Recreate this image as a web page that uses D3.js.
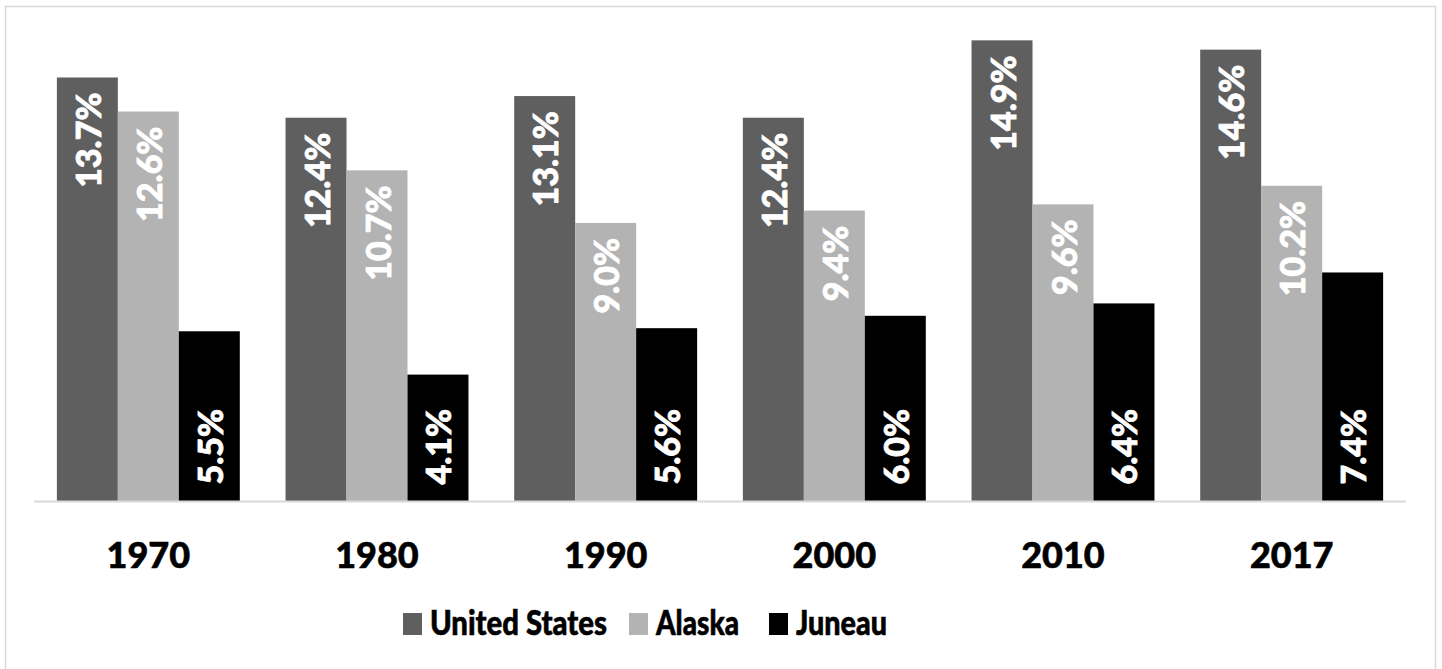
<!DOCTYPE html>
<html>
<head>
<meta charset="utf-8">
<script src="https://cdn.jsdelivr.net/npm/d3@7"></script>
<style>
  html, body { margin: 0; padding: 0; background: #fff; }
  svg { display: block; }
  text { font-family: Lato, "Open Sans", sans-serif; font-weight: 900; }
</style>
</head>
<body>
<svg id="chart" width="1442" height="669"></svg>
<script>
// Poverty rate by decade
const years = ["1970", "1980", "1990", "2000", "2010", "2017"];
const seriesNames = ["United States", "Alaska", "Juneau"];
const unitedStates = [13.7, 12.4, 13.1, 12.4, 14.9, 14.6];
const alaska = [12.6, 10.7, 9.0, 9.4, 9.6, 10.2];
const juneau = [5.5, 4.1, 5.6, 6.0, 6.4, 7.4];
const seriesColors = ["#5f5f5f", "#b3b3b3", "#000000"];

const seriesValues = [unitedStates, alaska, juneau];
const rows = years.map((y, i) => ({
  year: y,
  values: seriesNames.map((s, k) => ({ key: s, k, value: seriesValues[k][i] }))
}));

const svg = d3.select("#chart");

// chart frame
svg.append("rect")
  .attr("x", 5.5).attr("y", 6.5)
  .attr("width", 1430).attr("height", 700)
  .attr("fill", "none").attr("stroke", "#d9d9d9").attr("stroke-width", 1.5);

const x0 = d3.scaleBand().domain(years).range([34, 1406])
  .paddingInner(0.2).paddingOuter(0.1);
const x1 = d3.scaleBand().domain(seriesNames).range([0, x0.bandwidth()]);
const y = d3.scaleLinear().domain([0, 16]).range([501.5, 6.3]);

const groups = svg.append("g").selectAll("g")
  .data(rows).join("g")
  .attr("transform", d => `translate(${x0(d.year)},0)`);

groups.selectAll("rect")
  .data(d => d.values).join("rect")
  .attr("x", d => x1(d.key))
  .attr("y", d => y(d.value))
  .attr("width", x1.bandwidth())
  .attr("height", d => y(0) - y(d.value))
  .attr("fill", d => seriesColors[d.k]);

// value labels, rotated; Juneau sits at the bar base, others at the bar end
groups.selectAll("text.val")
  .data(d => d.values).join("text")
  .attr("class", "val")
  .attr("transform", d => {
    const cx = x1(d.key) + x1.bandwidth() / 2;
    const cy = d.k === 2 ? y(0) - 17 : y(d.value) + 15;
    return `translate(${cx},${cy}) rotate(-90)`;
  })
  .attr("text-anchor", d => d.k === 2 ? "start" : "end")
  .attr("dominant-baseline", "central")
  .attr("fill", "#fff")
  .attr("stroke", "#fff").attr("stroke-width", 0.8)
  .attr("font-size", 34)
  .text(d => d.value.toFixed(1) + "%");

// category axis
const xAxis = svg.append("g")
  .attr("transform", `translate(0,${y(0)})`)
  .call(d3.axisBottom(x0).tickSize(0).tickPadding(41).tickSizeOuter(0));
xAxis.select(".domain").attr("stroke", "#d9d9d9").attr("stroke-width", 2)
  .attr("d", "M34,0H1406");
xAxis.selectAll(".tick text")
  .attr("font-size", 36).attr("fill", "#000")
  .attr("stroke", "#000").attr("stroke-width", 0.6)
  .attr("font-family", "Lato, 'Open Sans', sans-serif")
  .attr("font-weight", 900);

// legend
const legendItems = [
  { name: seriesNames[0], x: 403, w: 177 },
  { name: seriesNames[1], x: 629, w: 83 },
  { name: seriesNames[2], x: 769, w: 91 }
];
const legend = svg.append("g").selectAll("g")
  .data(legendItems).join("g")
  .attr("transform", d => `translate(${d.x},0)`);
legend.append("rect")
  .attr("x", 0).attr("y", 613).attr("width", 19).attr("height", 22)
  .attr("fill", (d, i) => seriesColors[i]);
legend.append("text")
  .attr("x", 27).attr("y", 635)
  .attr("font-size", 35).attr("fill", "#000")
  .attr("stroke", "#000").attr("stroke-width", 0.6)
  .attr("textLength", d => d.w)
  .attr("lengthAdjust", "spacingAndGlyphs")
  .text(d => d.name);
</script>
</body>
</html>
